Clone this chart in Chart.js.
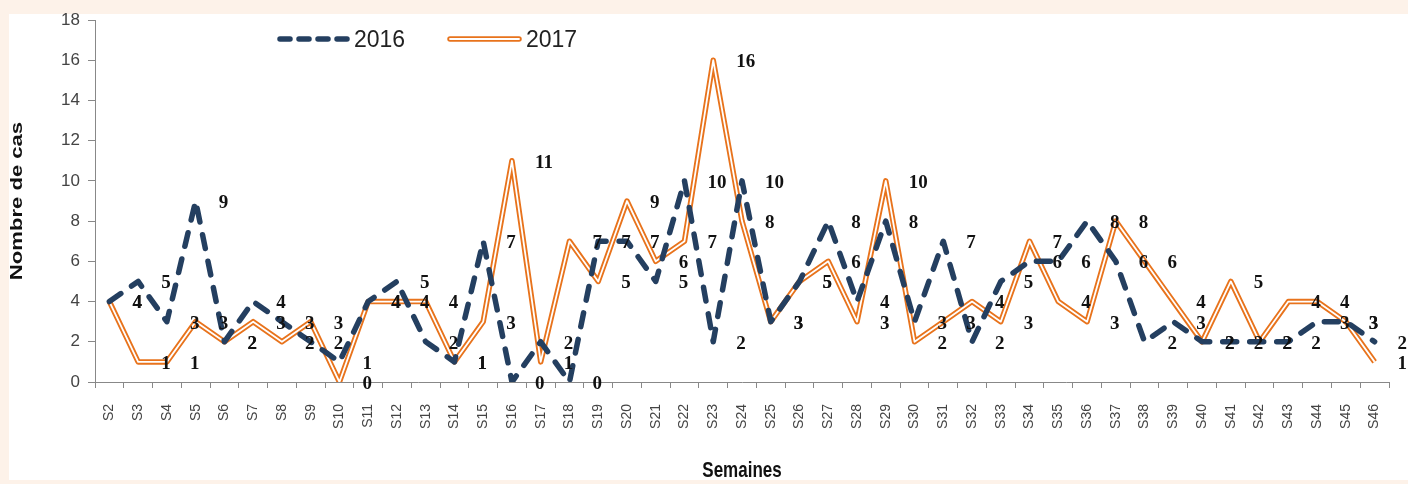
<!DOCTYPE html>
<html><head><meta charset="utf-8">
<script src="https://cdn.jsdelivr.net/npm/chart.js@4/dist/chart.umd.min.js"></script>
<style>html,body{margin:0;padding:0;background:#fdf2e9;}#wrap{width:1408px;height:484px;}</style>
</head><body><div id="wrap"><canvas id="c" width="1408" height="484"></canvas></div>
<script>
const weeks = ["S2","S3","S4","S5","S6","S7","S8","S9","S10","S11","S12","S13","S14","S15","S16","S17","S18","S19","S20","S21","S22","S23","S24","S25","S26","S27","S28","S29","S30","S31","S32","S33","S34","S35","S36","S37","S38","S39","S40","S41","S42","S43","S44","S45","S46"];
const cases2016 = [4,5,3,9,2,4,3,2,1,4,5,2,1,7,0,2,0,7,7,5,10,2,10,3,5,8,4,8,3,7,2,5,6,6,8,6,2,3,2,2,2,2,3,3,2];
const cases2017 = [4,1,1,3,2,3,2,3,0,4,4,4,1,3,11,1,7,5,9,6,7,16,8,3,5,6,3,10,2,3,4,3,7,4,3,8,6,4,2,5,2,4,4,3,1];
const yTicks = [0,2,4,6,8,10,12,14,16,18];
const seriesNames = ["2016","2017"];
const xTitle = "Semaines";
const yTitle = "Nombre de cas";

const NAVY = "#243f60", ORANGE = "#e8731c";

const bgPlugin = {
  id: "bg",
  beforeDraw(chart) {
    const c = chart.ctx;
    c.save();
    c.fillStyle = "#fdf2e9";
    c.fillRect(0, 0, chart.width, chart.height);
    c.fillStyle = "#ffffff";
    c.fillRect(9, 14, chart.width - 9, 466);
    c.restore();
  }
};

const labelPlugin = {
  id: "vals",
  afterDatasetsDraw(chart) {
    const c = chart.ctx;
    c.save();
    c.font = "bold 19px 'Liberation Serif', serif";
    c.fillStyle = "#111";
    c.textAlign = "left";
    c.textBaseline = "middle";
    [0, 2].forEach(di => {
      const meta = chart.getDatasetMeta(di);
      const data = chart.data.datasets[di].data;
      meta.data.forEach((pt, i) => {
        c.fillText(String(data[i]), pt.x + 23, pt.y + 2);
      });
    });
    c.restore();
  },
  afterDraw(chart) {
    const c = chart.ctx;
    c.save();
    // legend 2016
    c.lineCap = "round";
    c.strokeStyle = NAVY;
    c.lineWidth = 5.5;
    c.setLineDash([10, 9]);
    c.beginPath(); c.moveTo(280, 39); c.lineTo(347, 39); c.stroke();
    c.setLineDash([]);
    // legend 2017
    c.strokeStyle = ORANGE; c.lineWidth = 5.5;
    c.beginPath(); c.moveTo(450, 39); c.lineTo(519, 39); c.stroke();
    c.strokeStyle = "#fff"; c.lineWidth = 1.8;
    c.beginPath(); c.moveTo(450, 39); c.lineTo(519, 39); c.stroke();
    c.font = "23px 'Liberation Sans', sans-serif";
    c.fillStyle = "#222";
    c.textBaseline = "middle";
    c.fillText(seriesNames[0], 354, 41);
    c.fillText(seriesNames[1], 526, 41);
    // axis titles
    const ca = chart.chartArea;
    c.fillStyle = "#111";
    c.textAlign = "center";
    c.textBaseline = "middle";
    c.font = "bold 16px 'Liberation Sans', sans-serif";
    c.save();
    c.translate(18, (ca.top + ca.bottom) / 2);
    c.rotate(-Math.PI / 2);
    c.scale(1.38, 1);
    c.fillText(yTitle, 0, 0);
    c.restore();
    c.save();
    c.translate((ca.left + ca.right) / 2, 471);
    c.scale(1, 1.3);
    c.font = "bold 17px 'Liberation Sans', sans-serif";
    c.fillText(xTitle, 0, 0);
    c.restore();
    c.restore();
  }
};

new Chart(document.getElementById("c"), {
  type: "line",
  data: {
    labels: weeks,
    datasets: [
      { label: seriesNames[0], data: cases2016, borderColor: NAVY, borderWidth: 5.5, borderDash: [14, 13], borderCapStyle: "round", borderJoinStyle: "round", pointRadius: 0, tension: 0, fill: false, order: 0 },
      { label: seriesNames[1] + "_inner", data: cases2017, borderColor: "#ffffff", borderWidth: 1.8, borderJoinStyle: "round", pointRadius: 0, tension: 0, fill: false, order: 1 },
      { label: seriesNames[1], data: cases2017, borderColor: ORANGE, borderWidth: 5.5, borderJoinStyle: "round", pointRadius: 0, tension: 0, fill: false, order: 2 }
    ]
  },
  options: {
    responsive: false,
    animation: false,
    devicePixelRatio: 1,
    layout: { padding: { left: 9, top: 20, right: 19, bottom: 4 } },
    plugins: { legend: { display: false }, tooltip: { enabled: false } },
    scales: {
      x: {
        offset: true,
        grid: { offset: true, drawOnChartArea: false, tickLength: 6, color: "#888", tickColor: "#888" },
        border: { color: "#888", width: 1 },
        ticks: { minRotation: 90, maxRotation: 90, autoSkip: false, padding: 16, color: "#444", font: { family: "'Liberation Sans', sans-serif", size: 14 } },
        title: { display: false },
        afterFit(s) { s.height = 98; }
      },
      y: {
        min: 0, max: 18,
        afterBuildTicks(s) { s.ticks = yTicks.map(v => ({ value: v })); },
        grid: { drawOnChartArea: false, tickLength: 7, color: "#888", tickColor: "#888" },
        border: { color: "#888", width: 1 },
        ticks: { padding: 8, color: "#444", font: { family: "'Liberation Sans', sans-serif", size: 17 } },
        title: { display: false },
        afterFit(s) { s.width = 86; }
      }
    }
  },
  plugins: [bgPlugin, labelPlugin]
});
</script></body></html>
